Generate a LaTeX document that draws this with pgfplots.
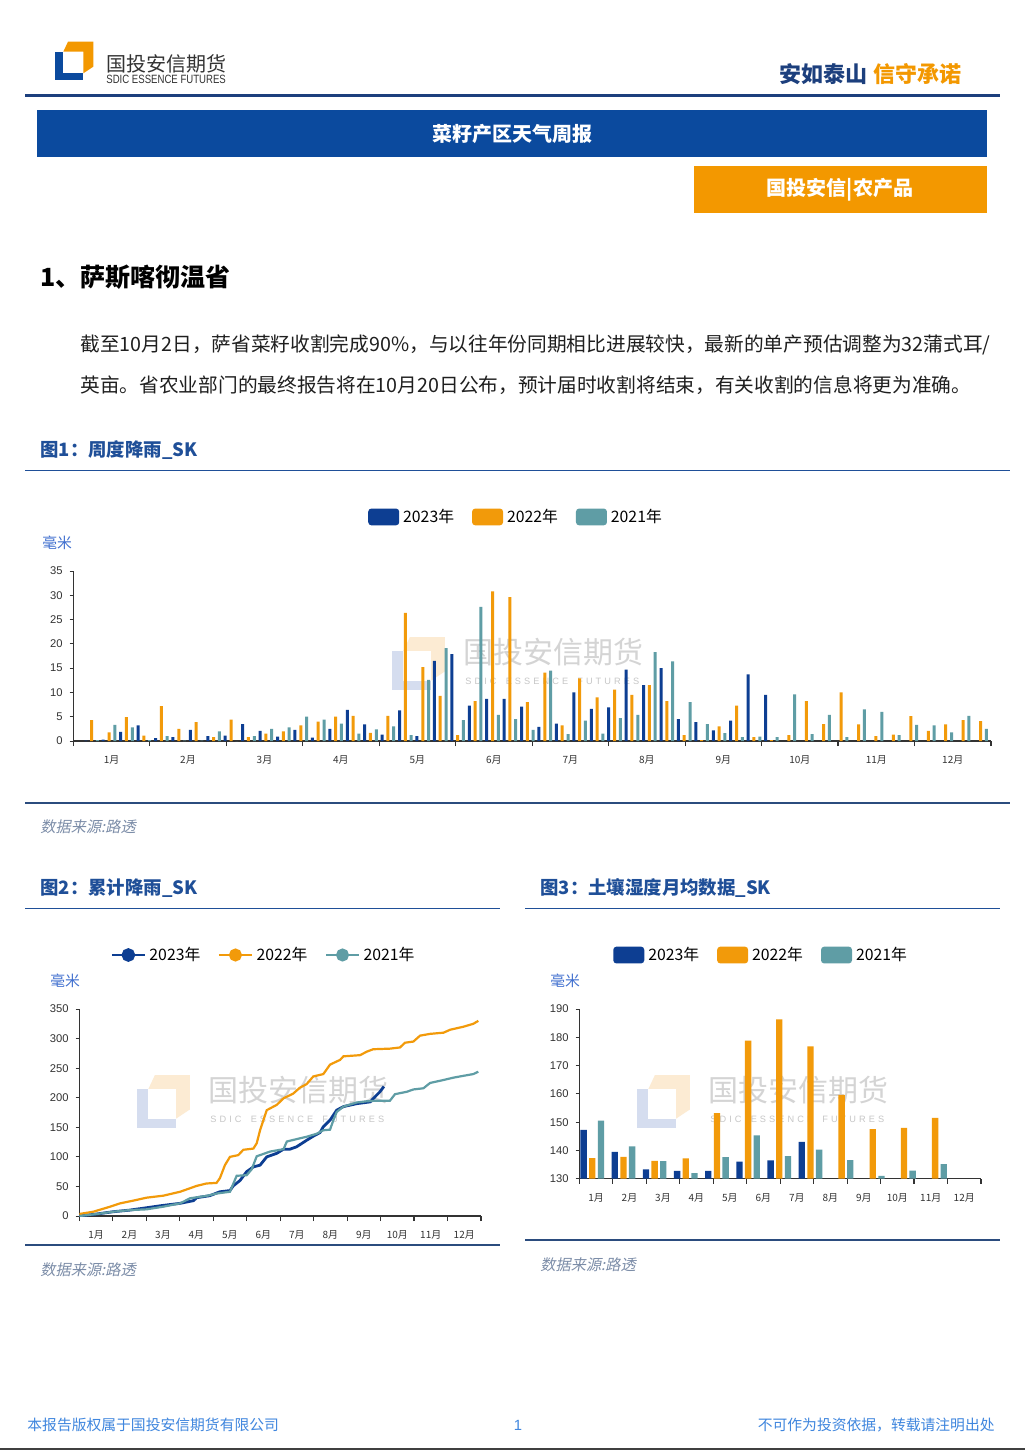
\documentclass[border=0pt]{standalone}
\usepackage{pgfplots}
\pgfplotsset{compat=1.18}
\usepackage{pgfplotstable}
\usepackage{graphicx}
\usepackage{fontspec}
\setmainfont{Liberation Sans}
\newfontfamily\cjk{Noto Sans CJK SC}
\newfontfamily\cjki[FakeSlant=0.2]{Noto Sans CJK SC}

\definecolor{c23}{HTML}{0D3E92}
\definecolor{c22}{HTML}{F29A0A}
\definecolor{c21}{HTML}{5F9DA5}
\definecolor{banner}{HTML}{0B4A9E}
\definecolor{orgbox}{HTML}{F39800}
\definecolor{hdrline}{HTML}{1C3F7D}
\definecolor{ttl}{HTML}{1F4F98}
\definecolor{sepc}{HTML}{2B4C7E}
\definecolor{unitc}{HTML}{4170CF}
\definecolor{srcc}{HTML}{7C8DA8}
\definecolor{footc}{HTML}{3F86DE}
\definecolor{tickc}{HTML}{333333}
\definecolor{wmb}{HTML}{D5DDEF}
\definecolor{wmo}{HTML}{FCEBD3}

% weekly rainfall, mm (week, 2023, 2022, 2021)
\pgfplotstableread{
wk  b23   o22   t21
1   0.1   4.3   0.2
2   0.3   1.8   3.3
3   1.9   4.9   2.8
4   3.2   1.1   0.2
5   0.6   7.2   1.0
6   0.8   2.5   0.1
7   2.3   3.9   0.1
8   1.0   0.8   2.0
9   1.1   4.4   0.0
10  3.5   0.8   1.0
11  2.1   1.5   2.5
12  0.9   2.0   2.8
13  2.3   3.2   5.0
14  0.7   4.0   4.4
15  2.5   5.0   3.6
16  6.4   5.2   1.5
17  3.4   1.7   2.4
18  1.3   5.2   3.0
19  6.3   26.4  1.2
20  1.0   15.2  12.6
21  16.5  9.3   19.1
22  17.9  1.2   4.3
23  7.3   8.2   27.6
24  8.7   30.8  5.4
25  8.7   29.6  4.5
26  7.1   8.0   2.3
27  2.9   14.1  14.5
28  3.6   3.2   1.4
29  10.0  12.9  4.2
30  6.6   9.0   1.5
31  6.9   10.6  4.7
32  14.7  9.5   5.4
33  11.5  11.5  18.3
34  15.0  8.2   16.4
35  4.5   1.2   8.0
36  3.9   0.2   3.5
37  2.2   3.0   1.6
38  4.2   7.3   0.8
39  13.7  0.8   0.9
40  9.5   0.2   0.8
41  nan   1.2   9.6
42  nan   8.2   1.4
43  nan   3.5   5.4
44  nan   10.0  0.8
45  nan   3.4   6.5
46  nan   1.0   6.0
47  nan   1.3   1.2
48  nan   5.1   3.3
49  nan   2.1   3.2
50  nan   3.4   1.8
51  nan   4.3   5.2
52  nan   4.1   2.5
}\weekly

% monthly soil moisture, mm (bar group position, 2023, 2022, 2021)
\pgfplotstableread{
pos     b23    o22    t21
0.388   147.3  137.3  150.5
1.319   139.5  137.7  141.4
2.250   133.3  136.3  136.2
3.181   132.8  137.2  132.0
4.112   132.8  153.2  137.6
5.043   136.0  178.8  145.3
5.974   136.5  186.3  138.0
6.905   143.0  176.8  140.3
7.836   nan    159.6  136.6
8.767   nan    147.5  131.0
9.698   nan    148.0  132.9
10.629  nan    151.5  135.2
}\soil

\pgfplotsset{
  rptaxis/.style={
    scale only axis, anchor=south west, enlargelimits=false,
    axis x line*=bottom, axis y line*=left,
    axis line style={tickc, line width=0.6pt},
    tick align=outside,
    major tick length=1.8pt, minor tick length=2.6pt,
    major x tick style={draw=none},
    minor x tick style={tickc, line width=0.6pt},
    ytick style={tickc, line width=0.5pt},
    /pgf/number format/assume math mode=true,
    yticklabel style={font=\fontsize{5.6}{6}\selectfont, text=tickc},
    xticklabel style={font=\cjk\fontsize{5}{6}\selectfont, text=tickc, yshift=-2pt},
    legend style={draw=none, fill=none, anchor=center, legend columns=-1,
      font=\cjk\fontsize{7.9}{9}\selectfont,
      /tikz/every even column/.append style={column sep=7pt}},
  },
  barleg/.style={
    legend image code/.code={\fill[##1, rounded corners=1.6pt] (0pt,-4.2pt) rectangle (15.5pt,4.2pt);}},
  lineleg/.style={
    legend image code/.code={\draw[##1, line width=0.6pt] (0pt,0pt) -- (16.5pt,0pt);
      \fill[##1] (8.25pt,0pt) circle (2.7pt);}},
}

\newcommand{\logoshape}[2]{%
  \fill[#1] (0,10) rectangle (28.3,38.3);
  \fill[#2] (13,0) -- (38.3,0) -- (38.3,25) -- (28.3,31.6) -- (28.3,10) -- (8.3,10) -- cycle;
  \fill[white] (8.3,10) rectangle (28.3,31.6);}

\newcommand{\watermark}[2]{%
  \begin{scope}[shift={(#1,#2)}]
    \begin{scope}[scale=1.38]\logoshape{wmb}{wmo}\end{scope}
    \node[anchor=west, inner sep=0, text=black!17, font=\cjk\fontsize{15}{16}\selectfont] at (71,15) {国投安信期货};
    \node[anchor=west, inner sep=0, text=black!22, font=\fontsize{4.6}{5}\selectfont] at (73,44) {S\,\,D\,\,I\,\,C\quad E\,\,S\,\,S\,\,E\,\,N\,\,C\,\,E\quad F\,\,U\,\,T\,\,U\,\,R\,\,E\,\,S};
  \end{scope}}

\begin{document}
\begin{tikzpicture}
\begin{scope}[x=0.5pt, y=-0.5pt]
  \fill[white] (0,0) rectangle (1025,1450);
  \useasboundingbox (0,0) rectangle (1025,1450);

  % header
  \begin{scope}[shift={(55,41.7)}]\logoshape{banner}{orgbox}\end{scope}
  \node[anchor=west, inner sep=0, text=black!80, font=\cjk\fontsize{10}{11}\selectfont] at (106,63.5) {国投安信期货};
  \node[anchor=west, inner sep=0, text=black!80, font=\fontsize{6}{6}\selectfont] at (106,79.5) {\scalebox{0.8}[1]{SDIC ESSENCE FUTURES}};
  \node[anchor=east, inner sep=0, font=\cjk\bfseries\fontsize{11}{12}\selectfont] at (962,74) {\textcolor{hdrline}{安如泰山}\hspace{3pt}\textcolor{orgbox}{信守承诺}};
  \draw[hdrline, line width=1.4pt] (25,95.5) -- (1000,95.5);

  \fill[banner] (37,110) rectangle (987,157);
  \node[text=white, font=\cjk\bfseries\fontsize{10}{11}\selectfont] at (512,134) {菜籽产区天气周报};
  \fill[orgbox] (694,166) rectangle (987,213);
  \node[text=white, font=\cjk\bfseries\fontsize{10}{11}\selectfont] at (840,190) {国投安信|农产品};

  \node[anchor=west, inner sep=0, font=\cjk\bfseries\fontsize{12.5}{13}\selectfont] at (40,277) {1、萨斯喀彻温省};
  \node[anchor=west, inner sep=0, text=black!88, font=\cjk\fontsize{9.85}{11}\selectfont] at (80,345) {截至10月2日，萨省菜籽收割完成90\%，与以往年份同期相比进展较快，最新的单产预估调整为32蒲式耳/};
  \node[anchor=west, inner sep=0, text=black!88, font=\cjk\fontsize{9.85}{11}\selectfont] at (80,385) {英亩。省农业部门的最终报告将在10月20日公布，预计届时收割将结束，有关收割的信息将更为准确。};

  % figure 1 frame
  \node[anchor=west, inner sep=0, text=ttl, font=\cjk\bfseries\fontsize{9.2}{10}\selectfont] at (40,450) {图1：周度降雨\_SK};
  \draw[ttl, line width=0.7pt] (25,470.5) -- (1010,470.5);
  \node[anchor=west, inner sep=0, text=unitc, font=\cjk\fontsize{7.4}{8}\selectfont] at (42,543) {毫米};
  \draw[sepc, line width=0.6pt] (25,803) -- (1010,803);
  \node[anchor=west, inner sep=0, text=srcc, font=\cjki\fontsize{7.6}{8}\selectfont] at (40,827) {数据来源:路透};
  \watermark{392}{637}

  % figures 2 and 3 frames
  \node[anchor=west, inner sep=0, text=ttl, font=\cjk\bfseries\fontsize{9.2}{10}\selectfont] at (40,888) {图2：累计降雨\_SK};
  \node[anchor=west, inner sep=0, text=ttl, font=\cjk\bfseries\fontsize{9.2}{10}\selectfont] at (540,888) {图3：土壤湿度月均数据\_SK};
  \draw[ttl, line width=0.7pt] (25,908.5) -- (500,908.5);
  \draw[ttl, line width=0.7pt] (525,908.5) -- (1000,908.5);
  \node[anchor=west, inner sep=0, text=unitc, font=\cjk\fontsize{7.4}{8}\selectfont] at (50,981) {毫米};
  \node[anchor=west, inner sep=0, text=unitc, font=\cjk\fontsize{7.4}{8}\selectfont] at (550,981) {毫米};
  \watermark{137}{1075}
  \watermark{637}{1075}
  \draw[sepc, line width=0.6pt] (25,1245) -- (500,1245);
  \draw[sepc, line width=0.6pt] (525,1240) -- (1000,1240);
  \node[anchor=west, inner sep=0, text=srcc, font=\cjki\fontsize{7.6}{8}\selectfont] at (40,1270) {数据来源:路透};
  \node[anchor=west, inner sep=0, text=srcc, font=\cjki\fontsize{7.6}{8}\selectfont] at (540,1265) {数据来源:路透};

  % footer
  \node[anchor=west, inner sep=0, text=footc, font=\cjk\fontsize{7.4}{8}\selectfont] at (27,1425) {本报告版权属于国投安信期货有限公司};
  \node[inner sep=0, text=footc, font=\fontsize{7.4}{8}\selectfont] at (518,1425) {1};
  \node[anchor=east, inner sep=0, text=footc, font=\cjk\fontsize{7.4}{8}\selectfont] at (995,1425) {不可作为投资依据，转载请注明出处};
  \draw[black!75, line width=1pt] (0,1448.5) -- (1025,1448.5);

  \coordinate (ax1) at (73.3,741);
  \coordinate (ax2) at (79.3,1216);
  \coordinate (ax3) at (579.3,1178.7);
\end{scope}

% Figure 1: weekly rainfall
\begin{axis}[rptaxis, at={(ax1)}, width=458.85pt, height=85pt,
  ybar, bar width=1.5pt, barleg,
  xmin=-0.05, xmax=52.6, ymin=0, ymax=35, ytick={0,5,...,35},
  xtick={2.144,6.531,10.919,15.306,19.694,24.081,28.469,32.856,37.244,41.631,46.019,50.406},
  minor xtick={-0.05,4.3375,8.725,13.1125,17.5,21.8875,26.275,30.6625,35.05,39.4375,43.825,48.2125,52.6},
  xticklabels={1月,2月,3月,4月,5月,6月,7月,8月,9月,10月,11月,12月},
  legend style={at={(0.4835,1.318)}},
]
  \addplot[fill=c23, draw=none, bar shift=-2.9pt] table[x=wk, y=b23] {\weekly};
  \addplot[fill=c22, draw=none, bar shift=0pt] table[x=wk, y=o22] {\weekly};
  \addplot[fill=c21, draw=none, bar shift=2.9pt] table[x=wk, y=t21] {\weekly};
  \legend{2023年,2022年,2021年}
\end{axis}

% Figure 2: cumulative rainfall
\begin{axis}[rptaxis, at={(ax2)}, width=200.85pt, height=103.5pt, lineleg,
  xmin=0, xmax=12, ymin=0, ymax=350, ytick={0,50,...,350},
  xtick={0.5,1.5,...,11.5}, minor xtick={0,1,...,12},
  xticklabels={1月,2月,3月,4月,5月,6月,7月,8月,9月,10月,11月,12月},
  legend style={at={(0.462,1.261)}},
]
  \addplot[c23, line width=1.4pt, mark=none] coordinates {
    (0,0) (0.52,3.4) (1.02,7.3) (1.51,10) (2.01,14) (2.51,18) (3.01,21.4) (3.41,26)
    (3.51,31) (3.90,34.4) (4.20,41) (4.50,43) (4.60,51) (4.80,60) (5.00,75) (5.20,83)
    (5.40,86) (5.60,100) (5.90,106) (6.10,113) (6.29,113) (6.49,117) (6.79,128) (6.99,135)
    (7.19,141) (7.29,151) (7.49,162) (7.69,179) (7.89,185) (8.29,190) (8.69,193) (8.84,202)
    (8.98,210) (9.10,219)};
  \addplot[c22, line width=1.1pt, mark=none] coordinates {
    (0,3.4) (0.42,7.3) (0.92,15.8) (1.22,21.4) (1.61,26) (2.01,31) (2.51,34.4) (3.01,41)
    (3.51,51) (3.80,55) (4.10,56) (4.20,64) (4.35,86) (4.50,100) (4.75,103) (4.90,112)
    (5.20,114) (5.30,123) (5.40,145) (5.60,179) (5.90,188) (6.10,199) (6.39,207) (6.59,217)
    (6.79,223) (6.99,236) (7.29,240) (7.49,256) (7.79,264) (7.89,270) (8.39,272) (8.59,278)
    (8.78,282) (9.28,283) (9.58,285) (9.73,293) (9.98,295) (10.18,305) (10.48,308)
    (10.88,310) (11.08,315) (11.47,320) (11.77,325) (11.92,330)};
  \addplot[c21, line width=1.1pt, mark=none] coordinates {
    (0,0) (0.52,3.4) (1.02,7.3) (1.51,10) (2.01,11.3) (2.51,15.8) (3.01,21.4) (3.31,30)
    (3.80,34) (4.10,38) (4.50,41) (4.70,68) (5.00,69) (5.15,79) (5.30,101) (5.70,109)
    (6.10,113) (6.20,126) (6.49,130) (6.79,134) (7.09,139) (7.29,145) (7.49,146) (7.59,162)
    (7.69,176) (7.89,185) (8.29,192) (8.59,194) (8.88,195) (9.28,195) (9.43,206) (9.78,210)
    (9.98,214) (10.28,216) (10.48,225) (10.88,230) (11.18,234) (11.47,237) (11.77,240)
    (11.92,244)};
  \legend{2023年,2022年,2021年}
\end{axis}

% Figure 3: monthly soil moisture
\begin{axis}[rptaxis, at={(ax3)}, width=200.85pt, height=84.85pt,
  ybar, bar width=3.15pt, barleg,
  xmin=0, xmax=12, ymin=130, ymax=190, ytick={130,140,...,190},
  xtick={0.5,1.5,...,11.5}, minor xtick={0,1,...,12},
  xticklabels={1月,2月,3月,4月,5月,6月,7月,8月,9月,10月,11月,12月},
  legend style={at={(0.455,1.318)}},
]
  \addplot[fill=c23, draw=none, bar shift=-4.33pt] table[x=pos, y=b23] {\soil};
  \addplot[fill=c22, draw=none, bar shift=0pt] table[x=pos, y=o22] {\soil};
  \addplot[fill=c21, draw=none, bar shift=4.33pt] table[x=pos, y=t21] {\soil};
  \legend{2023年,2022年,2021年}
\end{axis}
\end{tikzpicture}
\end{document}
